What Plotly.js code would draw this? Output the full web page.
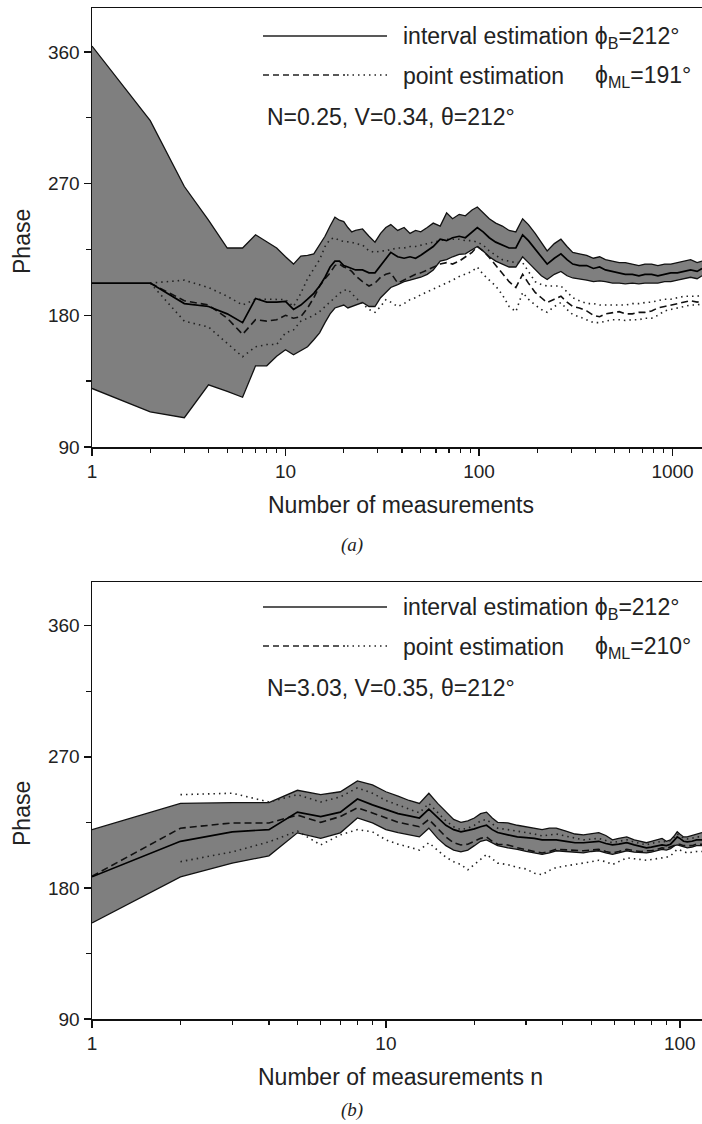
<!DOCTYPE html>
<html>
<head>
<meta charset="utf-8">
<script src="https://cdn.plot.ly/plotly-3.0.1.min.js"></script>
<style>html,body{margin:0;padding:0;background:#fff;}#chart{width:702px;height:1124px;}</style>
</head>
<body>
<div id="chart"></div>
<script>
// ---------- Panel (a) data ----------
const nA = [1,2,3,4,5,6,7,8,9,10,11,12,13,14,15,16,17,18,19,20,21,22,23,25,27,29,31,33,35,38,41,44,47,50,54,58,63,68,73,79,85,92,98,105,113,122,132,143,155,168,180,195,210,225,245,265,285,305,330,360,390,420,450,490,530,570,620,670,720,780,840,910,980,1060,1150,1240,1340,1420];
const upperA = [364,313,268,245,226,226,235,230,226,220,215,220.5,221,222,228,234,241,247,245,244,240,237,238,239,234,230,236,240,242,238,240,236,238,237,240,243,241,250,246,249,248,252,254,250,246,243,241,238,237,246,242,236,230,224,229,232,227,223,222,221,219,220,218,217,216,216,215,214,215,215,214,215,215,216,217,218,216,217];
const centerA = [202,202,188,186,181,175,191.5,189,189,189.5,184,187,191,195,200,206,213,217,217,214,213,212,211,211,209,209,214,219,223,220,219,220,219,221,224,227,232,231,233,234,233,237,240,237,233,230,228,226,226,235,231,225,220,215,219,222,218,215,214,214,212,213,211,210,209,208,208,207,208,208,207,208,209,209,210,211,210,212];
const lowerA = [130,114,110,132.5,128,124,145.5,145.5,152,156.5,153,156,158.5,163.3,168,175,181,185,186,187,185,186,187,188.7,186,186,192,196,199,201,203,204,205,206,208,211,217,218,220,221.6,222,225,227,224,220,217,215,213,213,220,216,211,207,204.5,208,210,207,205.5,205,204,203,203.5,203,202,202,201.5,202,201.5,202,202,202,203,203,204,205,206,205,207];
const mlA = [null,202,190,187,178,167,177,176,177,180,178,179,185,192,200,205,209,214,215,213,212,210,207,203,200,202,206,208,209,202,204,206,208,209,211,213,215,216,215,217,220,223,227,224,219.5,214,209,203,199,208,202,195.6,192,188.7,191,193,189,186,185,183,180,179,181,182,182.5,181,181,182,182,183,185,186,187,188,189,190,189,190];
const mlUpA = [null,202,204,199,193,187,191,191,190.7,190.7,186,195,205,212,218,227,232,233,231,230.5,230,230,229,228,224,223,224,224,225,226,226,227,227,228,229,230,231,232,232,232,231,231,230,228,224,221,218,217,216,216,210,203,201,200,200,200,196,192,190,188,188,187,187,187,187,187,188,188,188.7,189,190,191,191,192,193,193,193,194];
const mlLoA = [null,202,176,172,161,151.7,158.5,160,160,168,170,176,178,180,182.5,186,189,192,195,197,197.6,195,192,188,184,182,186,190.7,189,186,188,190.7,192,194,196,198,200,202,204,206.5,208,210,213,208,204,200,194,186,182.5,195.6,191,187,184,182,186,188.7,184,180.5,179,177,175,175,176,177,177,176.5,177,177,178,178,180,183,184,185,186,187,187,188];

// ---------- Panel (b) data ----------
const nB = [1,2,3,4,5,6,7,8,9,10,11,12,13,14,15,16,17,18,19,20,21,22,23,24,26,28,30,32,34,36,38,41,44,47,50,53,56,59,62,66,70,74,77,80,84,87,90,93,96,98,100,103,106,110,114,119];
const upperB = [220,238,238.5,238.5,247,244,246,253.5,250.7,246,243,240,238,245,238,232,227,225,226,228,231,232,228,225,224.6,223,222,221,220,221,221,219,217,216.4,217,218,216,213,214,215,213,212,211,212,213,214,212,213,216,218.5,217,215,215,216,217,218];
const centerB = [187.6,212,218.5,220,232,229,232,241,237,233.6,231,229.5,228,234,228,223,220,218.5,219.5,220.5,222,223,220,218,216.4,215,214.5,214,213,213,213,212,211,211,211.5,212,210.5,209.5,210,211,209.5,208.5,207.5,208,209,209.5,209,210,213,215,214,212,211.6,212,213,213];
const lowerB = [156,187.6,197,202,217.8,214,217.8,228,224.6,220,218,216.5,215,221,214,209,206,204.7,206,209,212,213,211,209,207.5,206.5,205,204,203,204,205.5,205,204.5,204,205,205.5,204,203,204,205.5,204.5,204,204,204.5,205.5,206.5,206,207,209,209.5,209,208,207.5,208,209,209];
const mlB = [188,221,224.6,224.6,230,225,229,235,231.5,228,225,223.5,222,227,221,215,211,209.5,210,212,214,215,212,210,209.5,207.5,206,205,204,205,206.5,206,205.5,205.5,206,206.5,205,204,205,206.5,205.5,205,205.5,205.5,206.5,207.5,207,208,209.5,210,210,209,209,209,210,210];
const mlUpB = [null,244,245,239,244,239,242.5,248.7,245,240,237,234,231.5,238,232,226,222,220,221,223,226,227,224,221,220,219,218,217,215.7,216.5,217,215.5,214,213,213.5,214,212.5,211,212,213,211.5,210.5,209.5,210.5,211.5,212,211.5,212.5,215,217,216,214,213.6,214,215,215];
const mlLoB = [null,198,204.7,211.6,219,209.5,216.4,220,218.5,213,210,208,206,211,206,201,198,196,192.4,196,200,203,200,197,196,194,193,190,189,192,194,195,196,197,198,199,198,196,198,200.6,200,199.5,199,199.5,200,200.6,201,202,205,206.5,206,205,204,204.5,205,205];

// ---------- Ticks & texts ----------
const yTickVals = [90,180,270,360];
const yMinorVals = [135,225,315];
const xTickValsA = [1,10,100,1000];
const xTickValsB = [1,10,100];
const xMinorVals = [2,3,4,5,6,7,8,9,20,30,40,50,60,70,80,90,200,300,400,500,600,700,800,900];
const xMaxA = 1420, xMaxB = 119;
const yRange = [90,390];

const W = 702, H = 1124;
const X = p => p / W;
const Y = p => 1 - p / H;

const BAND = '#7f7f7f';
const FONT = 'Liberation Sans, Arial, sans-serif';

function panelTraces(n, up, cen, lo, ml, mlUp, mlLo, xa, ya) {
  return [
    {x:n, y:lo, xaxis:xa, yaxis:ya, mode:'lines', line:{color:'#111', width:1.3}, hoverinfo:'skip'},
    {x:n, y:up, xaxis:xa, yaxis:ya, mode:'lines', fill:'tonexty', fillcolor:BAND, line:{color:'#111', width:1.3}, hoverinfo:'skip'},
    {x:n, y:mlLo, xaxis:xa, yaxis:ya, mode:'lines', line:{color:'#222', width:1.6, dash:'1.5px,4px'}, hoverinfo:'skip'},
    {x:n, y:mlUp, xaxis:xa, yaxis:ya, mode:'lines', line:{color:'#222', width:1.6, dash:'1.5px,4px'}, hoverinfo:'skip'},
    {x:n, y:ml, xaxis:xa, yaxis:ya, mode:'lines', line:{color:'#111', width:1.6, dash:'7px,4px'}, hoverinfo:'skip'},
    {x:n, y:cen, xaxis:xa, yaxis:ya, mode:'lines', line:{color:'#000', width:1.7}, hoverinfo:'skip'}
  ];
}

const data = [].concat(
  panelTraces(nA, upperA, centerA, lowerA, mlA, mlUpA, mlLoA, 'x', 'y'),
  panelTraces(nB, upperB, centerB, lowerB, mlB, mlUpB, mlLoB, 'x2', 'y2')
);

function xAxis(anchor, maxv, tickvals) {
  return {
    type:'log', anchor:anchor, domain:[X(92),1], range:[0, Math.log10(maxv)],
    showline:true, mirror:true, linecolor:'#111', linewidth:1.5,
    showgrid:false, zeroline:false,
    ticks:'outside', ticklen:7, tickwidth:1.5, tickcolor:'#111',
    tickmode:'array', tickvals:tickvals, ticktext:tickvals.map(String),
    tickfont:{family:FONT, size:19, color:'#222'},
    minor:{tickmode:'array', tickvals:xMinorVals, ticks:'outside', ticklen:4, tickwidth:1.3, tickcolor:'#111', showgrid:false}
  };
}
function yAxis(anchor, dom) {
  return {
    anchor:anchor, domain:dom, range:yRange,
    showline:true, linecolor:'#111', linewidth:1.5,
    showgrid:false, zeroline:false,
    ticks:'outside', ticklen:7, tickwidth:1.5, tickcolor:'#111',
    tickmode:'array', tickvals:yTickVals, ticktext:yTickVals.map(String),
    tickfont:{family:FONT, size:19, color:'#222'},
    minor:{tickmode:'array', tickvals:yMinorVals, ticks:'outside', ticklen:5, tickwidth:1.3, tickcolor:'#111', showgrid:false}
  };
}

function txt(text, x, y, opts) {
  return Object.assign({text:text, xref:'paper', yref:'paper', x:X(x), y:Y(y), xanchor:'left', yanchor:'middle', showarrow:false,
    font:{family:FONT, size:23, color:'#222'}}, opts || {});
}
function seg(x0, x1, y, dash) {
  return {type:'line', xref:'paper', yref:'paper', x0:X(x0), x1:X(x1), y0:Y(y), y1:Y(y), line:{color:'#222', width:1.4, dash:dash}};
}

function legendBlock(top, mlText) {
  return {
    ann: [
      txt('interval estimation \u03d5<sub>B</sub>=212\u00b0', 401, top + 1),
      txt('point estimation', 401, top + 40),
      txt('\u03d5<sub>ML</sub>=' + mlText, 593, top + 40)
    ],
    shapes: [seg(263, 387, top, 'solid'), seg(263, 345, top + 39, '6px,4px'), seg(347, 387, top + 39, '1.5px,4px')]
  };
}

const legA = legendBlock(36, '191\u00b0');
const legB = legendBlock(607, '210\u00b0');

const annotations = [].concat(legA.ann, legB.ann, [
  txt('N=0.25, V=0.34, \u03b8=212\u00b0', 265, 117),
  txt('N=3.03, V=0.35, \u03b8=212\u00b0', 265, 688),
  txt('Phase', 22, 242, {xanchor:'center', textangle:-90}),
  txt('Phase', 22, 814, {xanchor:'center', textangle:-90}),
  txt('Number of measurements', 401, 505, {xanchor:'center'}),
  txt('Number of measurements n', 400, 1077, {xanchor:'center'}),
  txt('<i>(a)</i>', 352, 545, {xanchor:'center', font:{family:'Liberation Serif, Times New Roman, serif', size:19, color:'#222'}}),
  txt('<i>(b)</i>', 352, 1110, {xanchor:'center', font:{family:'Liberation Serif, Times New Roman, serif', size:19, color:'#222'}})
]);

const layout = {
  width:W, height:H,
  margin:{l:0, r:0, t:0, b:0},
  paper_bgcolor:'#fff', plot_bgcolor:'#fff',
  showlegend:false,
  xaxis: xAxis('y', xMaxA, xTickValsA),
  yaxis: yAxis('x', [Y(447), Y(8)]),
  xaxis2: xAxis('y2', xMaxB, xTickValsB),
  yaxis2: yAxis('x2', [Y(1019), Y(582)]),
  annotations: annotations,
  shapes: [].concat(legA.shapes, legB.shapes)
};

Plotly.newPlot('chart', data, layout, {staticPlot:true, displayModeBar:false});
</script>
</body>
</html>
